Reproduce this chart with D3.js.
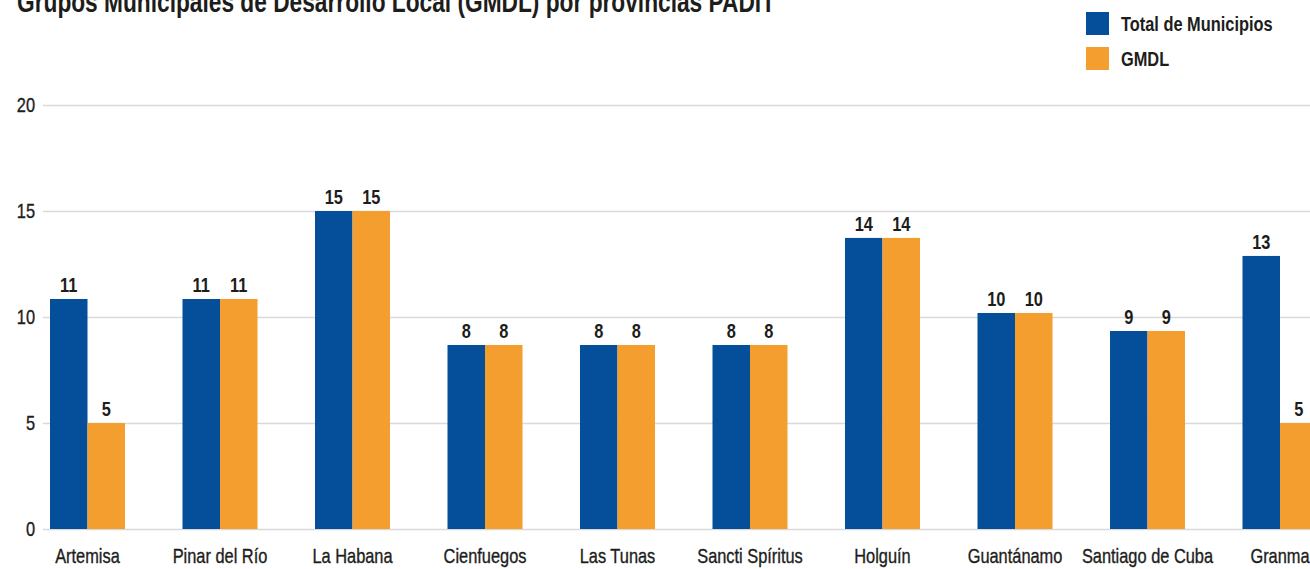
<html>
<head>
<meta charset="utf-8">
<title>GMDL por provincias PADIT</title>
<script src="https://cdn.jsdelivr.net/npm/d3@7"></script>
<style>
    body { margin: 0; background: #fff; }
    text { font-family: "Liberation Sans", Arial, sans-serif; fill: #1d1d1b; }
    .grid line { stroke: #d9d9d9; stroke-width: 1.5px; }
    .grid text, .cat text { stroke: #1d1d1b; stroke-width: 0.35px; }
    .title { font-weight: bold; font-size: 29px; }
    .val { font-weight: bold; font-size: 20px; }
    .legend text { font-weight: bold; font-size: 20px; }
</style>
</head>
<body>
<div id="chart"></div>
<script>
var categories = ["Artemisa", "Pinar del Río", "La Habana", "Cienfuegos", "Las Tunas",
    "Sancti Spíritus", "Holguín", "Guantánamo", "Santiago de Cuba", "Granma"];
// bar heights as drawn in the picture
var totalValues = [10.85, 10.85, 15, 8.68, 8.68, 8.68, 13.73, 10.19, 9.34, 12.88];
var gmdlValues = [5, 10.85, 15, 8.68, 8.68, 8.68, 13.73, 10.19, 9.34, 5];
// numbers printed over the bars
var totalLabels = ["11", "11", "15", "8", "8", "8", "14", "10", "9", "13"];
var gmdlLabels = ["5", "11", "15", "8", "8", "8", "14", "10", "9", "5"];
var yTicks = [0, 5, 10, 15, 20];
var seriesNames = ["Total de Municipios", "GMDL"];
var colors = ["#054e9a", "#f49e2f"];

var width = 1310, height = 569;
var squeeze = 0.82; // no condensed face installed, so squeeze the regular one

var svg = d3.select("#chart").append("svg")
    .attr("width", width).attr("height", height);

var y = d3.scaleLinear().domain([0, 20]).range([529, 105]);

var x = d3.scaleBand().domain(categories)
    .range([21.25, 1346.25])
    .paddingInner(57.5 / 132.5)
    .paddingOuter(28.75 / 132.5);

var x1 = d3.scaleBand().domain(["total", "gmdl"]).range([0, x.bandwidth()]);

function narrow(sel) {
    sel.each(function() {
        var t = d3.select(this);
        var xx = +t.attr("x") || 0;
        t.attr("x", xx / squeeze).attr("transform", "scale(" + squeeze + ",1)");
    });
}

// gridlines + y labels
var gx = 43;
var yAxis = svg.append("g").attr("class", "grid")
    .attr("transform", "translate(" + gx + ",0)")
    .call(d3.axisLeft(y).tickValues(yTicks).tickSize(-(width - gx)).tickPadding(8));
yAxis.select(".domain").remove();
yAxis.selectAll("text").attr("font-size", 20).call(narrow);

// category labels
var xAxis = svg.append("g").attr("class", "cat")
    .attr("transform", "translate(0," + y(0) + ")")
    .call(d3.axisBottom(x).tickSize(0).tickPadding(20));
xAxis.select(".domain").remove();
xAxis.selectAll("text").attr("font-size", 20).call(narrow);

var rows = categories.map(function(c, i) {
    return [
        { key: "total", cat: c, v: totalValues[i], lab: totalLabels[i], color: colors[0] },
        { key: "gmdl", cat: c, v: gmdlValues[i], lab: gmdlLabels[i], color: colors[1] }
    ];
});

var groups = svg.append("g").selectAll("g")
    .data(rows).enter().append("g")
    .attr("transform", function(d) { return "translate(" + x(d[0].cat) + ",0)"; });

groups.selectAll("rect")
    .data(function(d) { return d; }).enter()
    .append("rect")
    .attr("x", function(d) { return x1(d.key); })
    .attr("y", function(d) { return y(d.v); })
    .attr("width", x1.bandwidth())
    .attr("height", function(d) { return y(0) - y(d.v); })
    .attr("fill", function(d) { return d.color; });

groups.selectAll("text.val")
    .data(function(d) { return d; }).enter()
    .append("text")
    .attr("class", "val")
    .attr("text-anchor", "middle")
    .attr("x", function(d) { return x1(d.key) + x1.bandwidth() / 2; })
    .attr("y", function(d) { return y(d.v) - 7; })
    .text(function(d) { return d.lab; })
    .call(narrow);

// title (cut off at the top like the source)
svg.append("text").attr("class", "title")
    .attr("x", 17).attr("y", 12)
    .attr("textLength", 758).attr("lengthAdjust", "spacingAndGlyphs")
    .text("Grupos Municipales de Desarrollo Local (GMDL) por provincias PADIT");

// legend
var legend = svg.append("g").attr("class", "legend")
    .attr("transform", "translate(1086,12)");
var li = legend.selectAll("g").data(seriesNames).enter().append("g")
    .attr("transform", function(d, i) { return "translate(0," + (i * 35) + ")"; });
li.append("rect").attr("width", 23).attr("height", 23)
    .attr("fill", function(d, i) { return colors[i]; });
li.append("text").attr("x", 35).attr("y", 19).text(function(d) { return d; }).call(narrow);
</script>
</body>
</html>
